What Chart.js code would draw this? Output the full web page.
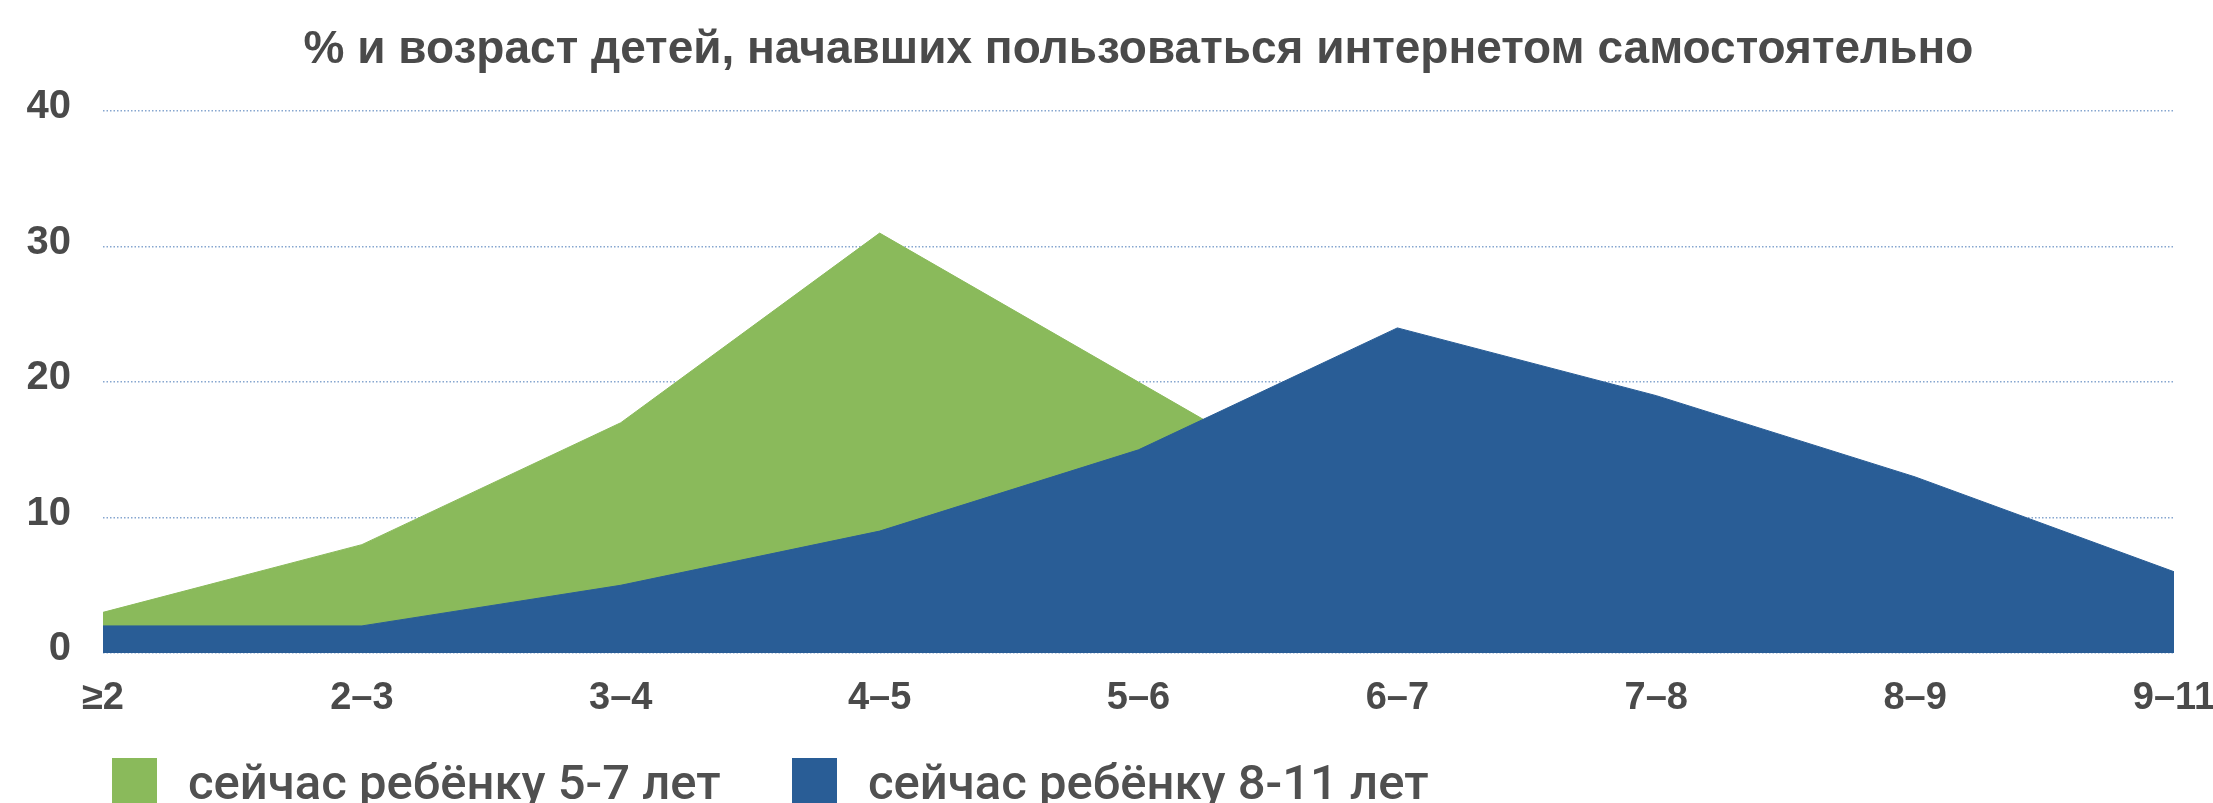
<!DOCTYPE html>
<html lang="ru">
<head>
<meta charset="utf-8">
<script src="https://cdn.jsdelivr.net/npm/chart.js@4/dist/chart.umd.min.js"></script>
<style>
html,body{margin:0;padding:0;overflow:hidden;background:#fff}
#wrap{position:relative;width:2213px;height:803px}
#legend{position:absolute;left:0;top:0;width:100%;height:100%;pointer-events:none}
.item{position:absolute;top:758px;height:60px}
.box{position:absolute;left:0;top:0;width:45px;height:45px}
.txt{position:absolute;top:-5px;white-space:nowrap;font-family:Roboto,"Noto Sans",sans-serif;font-weight:500;font-size:49px;line-height:60px;color:#505050}
</style>
</head>
<body>
<div id="wrap">
<canvas id="chart"></canvas>
<div id="legend"></div>
</div>
<script>

const vozrast=["≥2","2–3","3–4","4–5","5–6","6–7","7–8","8–9","9–11"]

// сейчас ребёнку 5-7 лет (after 6–7 hidden behind the blue area)
const deti57=[3,8,17,31,20,9,5,2,1]

// сейчас ребёнку 8-11 лет
const deti811=[2,2,5,9,15,24,19,13,6]

const yTicks=[0,10,20,30,40]

const nazvanie="% и возраст детей, начавших пользоваться интернетом самостоятельно"
const legendaText=["сейчас ребёнку 5-7 лет","сейчас ребёнку 8-11 лет"]
const warna=["#8aba5b","#295d96"]

const hurufTick="'Liberation Sans',Arial,sans-serif"

new Chart(document.getElementById("chart"),{

type:"line",

data:{
labels:vozrast,
datasets:[{
label:legendaText[0],
data:deti57,
fill:"origin",
backgroundColor:warna[0],
borderColor:warna[0],
borderWidth:1,
pointRadius:0,
tension:0,
order:1
},{
label:legendaText[1],
data:deti811,
fill:"origin",
backgroundColor:warna[1],
borderColor:warna[1],
borderWidth:1,
pointRadius:0,
tension:0,
order:0
}]
},

options:{
responsive:true,
maintainAspectRatio:false,
animation:false,
layout:{
padding:{left:20,right:0,top:0,bottom:90}
},
plugins:{
legend:{display:false},
tooltip:{enabled:false},
title:{
display:true,
fullSize:false,
text:nazvanie,
color:"#4a4a4a",
font:{family:"'Liberation Sans',Arial,sans-serif",size:46,weight:"bold",lineHeight:1.2},
padding:{top:23,bottom:33}
}
},
scales:{
x:{
afterFit:(scale)=>{
scale.height=60
scale.paddingLeft=0
scale.paddingRight=39
},
grid:{display:false,drawTicks:false},
border:{display:false},
ticks:{
color:"#4a4a4a",
font:{family:hurufTick,size:38,weight:"bold",lineHeight:1},
padding:27,
maxRotation:0,
autoSkip:false
}
},
y:{
min:0,
max:40,
afterFit:(scale)=>{scale.width=83},
afterBuildTicks:(scale)=>{scale.ticks=yTicks.map(v=>({value:v}))},
grid:{
color:"#86a6cf",
lineWidth:1.5,
drawTicks:false
},
border:{display:false,dash:[1.5,2]},
ticks:{
color:"#4a4a4a",
font:{family:hurufTick,size:40,weight:"bold",lineHeight:1},
padding:32,
labelOffset:-4
}
}
}
}

})

/* ===== legenda ===== */

let legenda=document.getElementById("legend")
let posisi=[112,792]

legendaText.forEach((t,i)=>{

let item=document.createElement("div")
item.className="item"
item.style.left=posisi[i]+"px"
item.innerHTML=`<div class="box" style="background:${warna[i]}"></div><div class="txt" style="left:76px">${t}</div>`
legenda.appendChild(item)

})

</script>
</body>
</html>
